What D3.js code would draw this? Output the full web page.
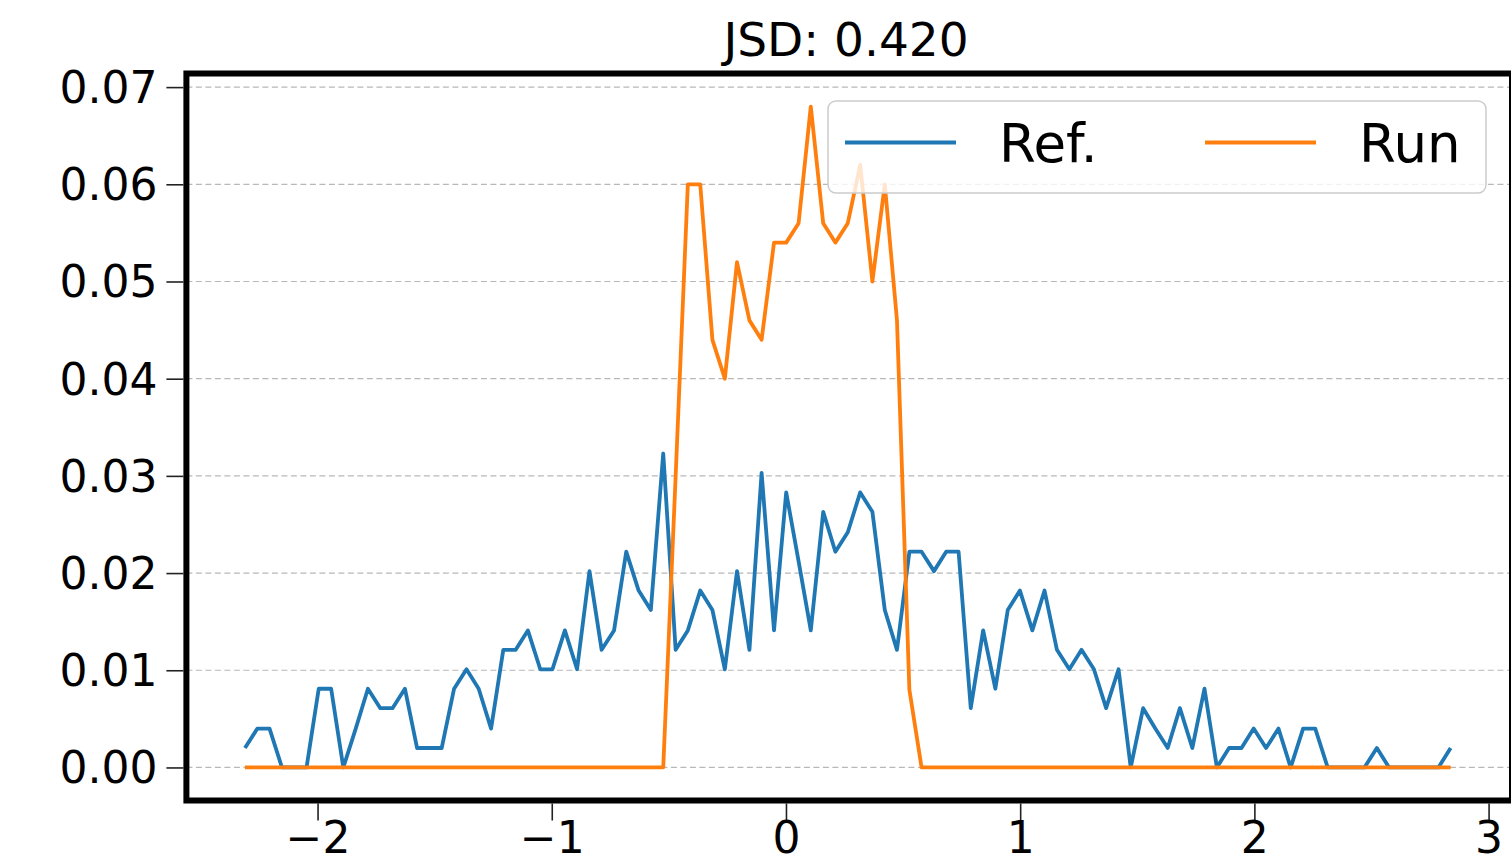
<!DOCTYPE html>
<html>
<head>
<meta charset="utf-8">
<script src="https://cdn.jsdelivr.net/npm/d3@7"></script>
<style>
  html, body { margin: 0; padding: 0; background: #ffffff; }
  svg { display: block; }
  text { font-family: "DejaVu Sans", sans-serif; fill: #000; }
</style>
</head>
<body>
<svg id="chart" width="1511" height="856"></svg>
<script>
// ---- data ----
const title = "JSD: 0.420";
const seriesNames = ["Ref.", "Run"];
const seriesColors = ["#1f77b4", "#ff7f0e"];

const xValues = [
  -2.310, -2.257, -2.205, -2.152, -2.100, -2.047, -1.995, -1.942, -1.890, -1.837,
  -1.785, -1.732, -1.680, -1.627, -1.575, -1.522, -1.470, -1.417, -1.364, -1.312,
  -1.259, -1.207, -1.154, -1.102, -1.049, -0.997, -0.944, -0.892, -0.839, -0.787,
  -0.734, -0.682, -0.629, -0.577, -0.524, -0.471, -0.419, -0.366, -0.314, -0.261,
  -0.209, -0.156, -0.104, -0.051, 0.001, 0.054, 0.106, 0.159, 0.211, 0.264,
  0.317, 0.369, 0.422, 0.474, 0.527, 0.579, 0.632, 0.684, 0.737, 0.789,
  0.842, 0.894, 0.947, 0.999, 1.052, 1.104, 1.157, 1.210, 1.262, 1.315,
  1.367, 1.420, 1.472, 1.525, 1.577, 1.630, 1.682, 1.735, 1.787, 1.840,
  1.892, 1.945, 1.997, 2.050, 2.103, 2.155, 2.208, 2.260, 2.313, 2.365,
  2.418, 2.470, 2.523, 2.575, 2.628, 2.680, 2.733, 2.786, 2.838
];

const refValues = [
  0.0020, 0.0040, 0.0040, 0.0000, 0.0000, 0.0000, 0.0081, 0.0081, 0.0000, 0.0040,
  0.0081, 0.0061, 0.0061, 0.0081, 0.0020, 0.0020, 0.0020, 0.0081, 0.0101, 0.0081,
  0.0040, 0.0121, 0.0121, 0.0141, 0.0101, 0.0101, 0.0141, 0.0101, 0.0202, 0.0121,
  0.0141, 0.0222, 0.0182, 0.0162, 0.0323, 0.0121, 0.0141, 0.0182, 0.0162, 0.0101,
  0.0202, 0.0121, 0.0303, 0.0141, 0.0283, 0.0212, 0.0141, 0.0263, 0.0222, 0.0242,
  0.0283, 0.0263, 0.0162, 0.0121, 0.0222, 0.0222, 0.0202, 0.0222, 0.0222, 0.0061,
  0.0141, 0.0081, 0.0162, 0.0182, 0.0141, 0.0182, 0.0121, 0.0101, 0.0121, 0.0101,
  0.0061, 0.0101, 0.0000, 0.0061, 0.0040, 0.0020, 0.0061, 0.0020, 0.0081, 0.0000,
  0.0020, 0.0020, 0.0040, 0.0020, 0.0040, 0.0000, 0.0040, 0.0040, 0.0000, 0.0000,
  0.0000, 0.0000, 0.0020, 0.0000, 0.0000, 0.0000, 0.0000, 0.0000, 0.0020
];

const runValues = [
  0, 0, 0, 0, 0, 0, 0, 0, 0, 0,
  0, 0, 0, 0, 0, 0, 0, 0, 0, 0,
  0, 0, 0, 0, 0, 0, 0, 0, 0, 0,
  0, 0, 0, 0, 0, 0.030, 0.060, 0.060, 0.044, 0.040,
  0.052, 0.046, 0.044, 0.054, 0.054, 0.056, 0.068, 0.056, 0.054, 0.056,
  0.062, 0.050, 0.060, 0.046, 0.008, 0, 0, 0, 0, 0,
  0, 0, 0, 0, 0, 0, 0, 0, 0, 0,
  0, 0, 0, 0, 0, 0, 0, 0, 0, 0,
  0, 0, 0, 0, 0, 0, 0, 0, 0, 0,
  0, 0, 0, 0, 0, 0, 0, 0, 0
];

const xTicks = [-2, -1, 0, 1, 2, 3];
const yTicks = [0.00, 0.01, 0.02, 0.03, 0.04, 0.05, 0.06, 0.07];

// ---- layout ----
const svg = d3.select("#chart");
const L = 186.4, R = 1512, T = 73.5, B = 800.5;
const x = d3.scaleLinear().domain([-2.56, 3.1]).range([L, R]);
const y = d3.scaleLinear().domain([-0.0034, 0.0714]).range([B, T]);

const defs = svg.append("defs");
defs.append("clipPath").attr("id", "plotclip")
  .append("rect").attr("x", L).attr("y", T).attr("width", R - L).attr("height", B - T);

// grid (horizontal dashed)
const grid = svg.append("g");
grid.selectAll("line").data(yTicks).enter().append("line")
  .attr("x1", L).attr("x2", R)
  .attr("y1", d => y(d)).attr("y2", d => y(d))
  .attr("stroke", "#b8b8b8").attr("stroke-width", 1.2)
  .attr("stroke-dasharray", "6,3.5");

// lines
const series = [refValues, runValues];
const lineGen = d3.line().x(d => x(d[0])).y(d => y(d[1]));
const plot = svg.append("g").attr("clip-path", "url(#plotclip)");
series.forEach((vals, k) => {
  const pts = xValues.map((xv, i) => [xv, vals[i]]);
  plot.append("path").datum(pts)
    .attr("d", lineGen)
    .attr("fill", "none")
    .attr("stroke", seriesColors[k])
    .attr("stroke-width", 3.8)
    .attr("stroke-linejoin", "round");
});

// axes (ticks + labels) via d3 axes
const yAxis = d3.axisLeft(y).tickValues(yTicks).tickFormat(d3.format(".2f"))
  .tickSizeInner(17).tickSizeOuter(0).tickPadding(9);
const gy = svg.append("g").attr("transform", `translate(${L - 3},0)`).call(yAxis);
gy.select(".domain").remove();
gy.selectAll(".tick line").attr("stroke", "#222").attr("stroke-width", 1.6);
gy.selectAll(".tick text").attr("font-size", 44).attr("font-family", "DejaVu Sans").attr("fill", "#111").attr("dy", "0.35em");

const xAxis = d3.axisBottom(x).tickValues(xTicks).tickFormat(d3.format("d"))
  .tickSizeInner(17).tickSizeOuter(0).tickPadding(4);
const gx = svg.append("g").attr("transform", `translate(0,${B + 3})`).call(xAxis);
gx.select(".domain").remove();
gx.selectAll(".tick line").attr("stroke", "#222").attr("stroke-width", 1.6);
gx.selectAll(".tick text").attr("font-size", 44).attr("font-family", "DejaVu Sans").attr("fill", "#111")
  .attr("dy", null).attr("y", 49);

// spines (thick black frame)
svg.append("rect")
  .attr("x", L).attr("y", T).attr("width", R - L).attr("height", B - T)
  .attr("fill", "none").attr("stroke", "#000").attr("stroke-width", 6);

// title
svg.append("text").attr("x", 846).attr("y", 56)
  .attr("text-anchor", "middle").attr("font-size", 47).attr("fill", "#111")
  .text(title);

// legend
const lg = svg.append("g");
lg.append("rect").attr("x", 828).attr("y", 101).attr("width", 658).attr("height", 92)
  .attr("rx", 8).attr("ry", 8)
  .attr("fill", "#ffffff").attr("fill-opacity", 0.8)
  .attr("stroke", "#cccccc").attr("stroke-width", 1.5);
const legendItems = [
  { x1: 845, x2: 956, tx: 999 },
  { x1: 1205, x2: 1316, tx: 1359 }
];
legendItems.forEach((it, k) => {
  lg.append("line").attr("x1", it.x1).attr("x2", it.x2).attr("y1", 142.5).attr("y2", 142.5)
    .attr("stroke", seriesColors[k]).attr("stroke-width", 4);
  lg.append("text").attr("x", it.tx).attr("y", 161.5)
    .attr("font-size", 53).attr("fill", "#111").text(seriesNames[k]);
});
</script>
</body>
</html>
